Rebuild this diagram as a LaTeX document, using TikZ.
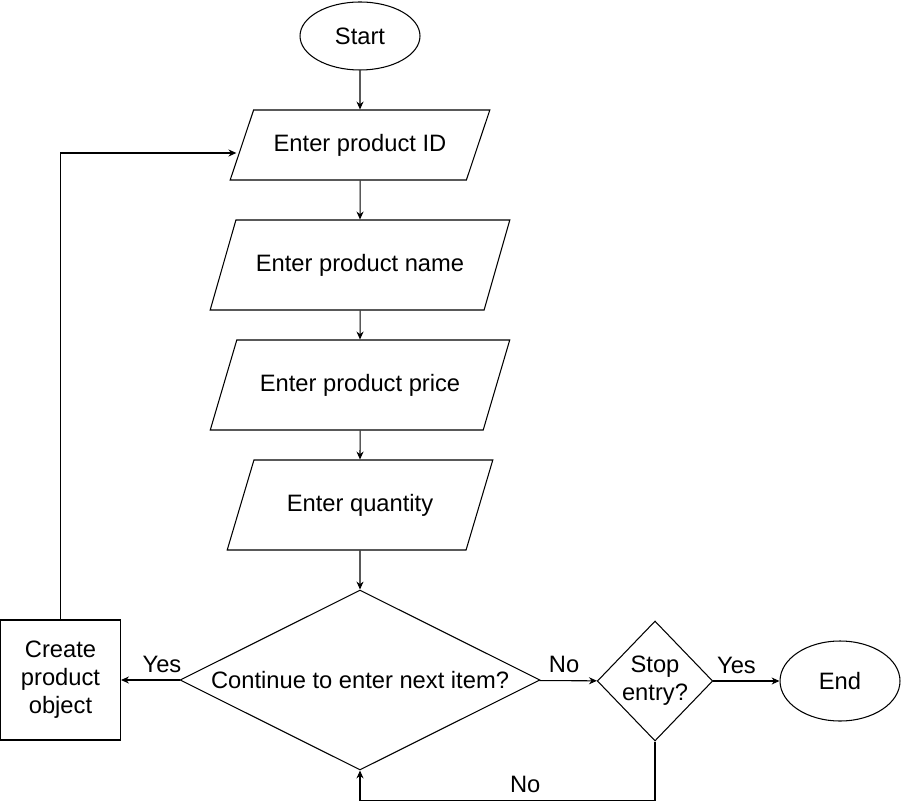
\documentclass[tikz,border=0pt]{standalone}
\usepackage{fontspec}
\setmainfont{Liberation Sans}
\usetikzlibrary{arrows.meta,shapes.geometric}

\begin{document}
\begin{tikzpicture}[>={Stealth[length=4.5pt,width=4pt]}, x=0.02cm, y=-0.02cm,
    every node/.style={font=\fontsize{13.5}{16}\selectfont, line width=0.6pt},
    term/.style={draw, ellipse, minimum width=2.4cm, minimum height=1.36cm, inner sep=0pt},
    io/.style={draw, trapezium, trapezium stretches=true, minimum height=1.8cm},
    decision/.style={draw, diamond, inner sep=0pt, align=center},
    process/.style={draw, rectangle, align=center, minimum width=2.4cm, minimum height=2.4cm},
    lbl/.style={above=4pt, inner sep=0pt}]
    \useasboundingbox (0,0) rectangle (901,810);

    % Terminals
    \node[term] (start) at (360,36) {Start};
    \node[term, minimum height=1.6cm] (finish) at (840,681) {End};

    % Input steps
    \node[io, trapezium left angle=59, trapezium right angle=121, minimum width=5.2cm, minimum height=1.4cm] (prodid) at (360,145) {Enter product ID};
    \node[io, trapezium left angle=56, trapezium right angle=124, minimum width=6cm] (prodname) at (360,265) {Enter product name};
    \node[io, trapezium left angle=56, trapezium right angle=124, minimum width=6cm] (prodprice) at (360,385) {Enter product price};
    \node[io, trapezium left angle=59.5, trapezium right angle=120.5, minimum width=5.32cm] (qty) at (360,505) {Enter quantity};

    % Decisions
    \node[decision, aspect=2, minimum width=7.2cm, minimum height=3.6cm] (next) at (360,680) {Continue to enter next item?};
    \node[decision, minimum width=2.2cm, minimum height=2.4cm] (stop) at (655,681) {Stop\\entry?};

    % Product object
    \node[process] (create) at (60.5,680) {Create\\product\\object};

    % Main flow
    \draw[->, line width=0.6pt] (start) -- (prodid);
    \draw[->, line width=0.6pt] (prodid) -- (prodname);
    \draw[->, line width=0.6pt] (prodname) -- (prodprice);
    \draw[->, line width=0.6pt] (prodprice) -- (qty);
    \draw[->, line width=0.6pt] (qty) -- (next);

    % Branches
    \draw[->, line width=0.6pt] (next) -- node[lbl, pos=0.3] {Yes} (create);
    \draw[->, line width=0.6pt] (next) -- node[lbl, pos=0.43] {No} (stop);
    \draw[->, line width=0.6pt] (stop) -- node[lbl, pos=0.35] {Yes} (finish);

    % Loops back
    \draw[->, line width=0.6pt] (create) |- ([shift={(-5,8)}]prodid.west);
    \draw[->, line width=0.6pt] (stop.south) -- ++(0,59) -| node[lbl, pos=0.22] {No} (next.south);
\end{tikzpicture}
\end{document}
